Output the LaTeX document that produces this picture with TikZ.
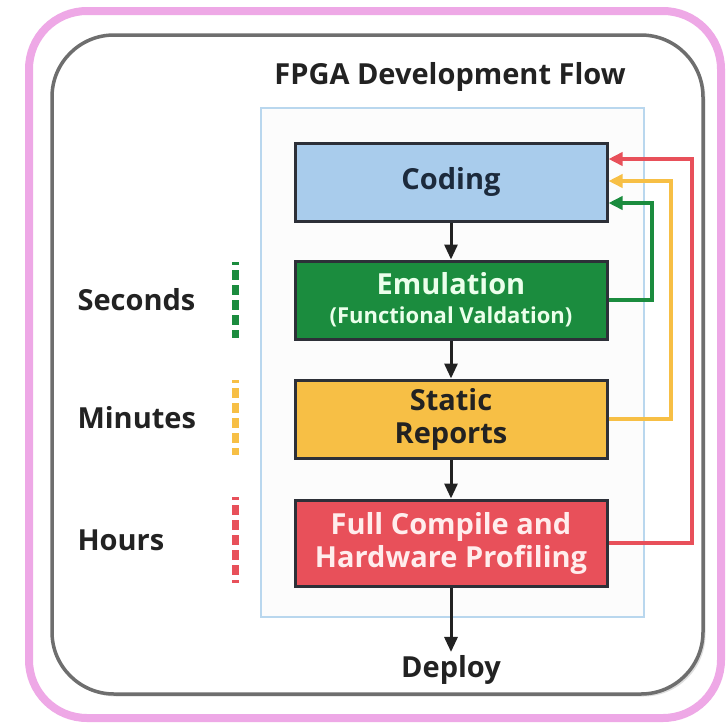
\documentclass[tikz,border=0pt]{standalone}
\usepackage{fontspec}
\setmainfont{Open Sans}
\usetikzlibrary{arrows.meta,shadows}
\definecolor{pinkframe}{HTML}{EEA8E6}
\definecolor{grayframe}{HTML}{6E6E6E}
\definecolor{flowframe}{HTML}{B9D7EE}
\definecolor{boxedge}{HTML}{2D3038}
\definecolor{codefill}{HTML}{A9CCEC}
\definecolor{codetext}{HTML}{1C2A3C}
\definecolor{emugreen}{HTML}{1B8C3E}
\definecolor{statyellow}{HTML}{F7BF45}
\definecolor{compred}{HTML}{E8505A}
\definecolor{darktext}{HTML}{222222}
\tikzset{
  stage/.style={draw=boxedge, line width=3pt, minimum width=312pt, minimum height=78pt, align=center, inner sep=0pt, font=\bfseries\fontsize{29}{33}\selectfont},
  flow/.style={draw=darktext, line width=3pt, -{Triangle[length=15pt,width=13pt]}},
  feedback/.style={line width=3.5pt, -{Triangle[length=14pt,width=13pt]}},
  timelabel/.style={anchor=west, text=darktext, font=\bfseries\fontsize{29}{33}\selectfont},
  timebar/.style={line width=7pt, dash pattern=on 10pt off 5pt, dash phase=7pt}
}
\begin{document}
\begin{tikzpicture}[x=1pt,y=-1pt]
\useasboundingbox (0,0) rectangle (726,723);
\fill[white] (0,0) rectangle (726,723);
% frames
\draw[pinkframe, line width=8pt, rounded corners=58pt] (29,11) rectangle (721,718);
\draw[grayframe, line width=3.5pt, fill=white, rounded corners=62pt, drop shadow={shadow xshift=2.5pt, shadow yshift=-2.5pt, fill=gray!50}] (52,35) rectangle (703,694);
\node[text=darktext, font=\bfseries\fontsize{29}{33}\selectfont] (title) at (450,77) {FPGA Development Flow};
\draw[flowframe, line width=2pt, fill=white!98!gray] (261,108) rectangle (644,617);

% stages
\node[stage, fill=codefill, text=codetext] (coding) at (451,182) {Coding};
\node[stage, fill=emugreen, text=white!92!green] (emulation) at (451,300) {Emulation\\[-4pt]{\fontsize{22}{26}\selectfont(Functional Valdation)}};
\node[stage, fill=statyellow, text=darktext] (static) at (451,419) {Static\\Reports};
\node[stage, fill=compred, text=white!93!red, minimum height=86pt] (compile) at (451,543) {Full Compile and\\Hardware Profiling};
\node[text=darktext, font=\bfseries\fontsize{29}{33}\selectfont] (deploy) at (451,670) {Deploy};

\draw[flow] (coding) -- (emulation);
\draw[flow] (emulation) -- (static);
\draw[flow] (static) -- (compile);
\draw[flow] (compile) -- (deploy);

% loops back to coding
\coordinate (redturn) at (692,159);
\coordinate (yellowturn) at (671,181);
\coordinate (greenturn) at (652,203);
\draw[feedback, compred] (compile.east) -| (redturn) -- (coding.east |- redturn);
\draw[feedback, statyellow] (static.east) -| (yellowturn) -- (coding.east |- yellowturn);
\draw[feedback, emugreen] (emulation.east) -| (greenturn) -- (coding.east |- greenturn);

% time scale
\foreach \name/\txt/\col/\ytop/\ybot in {sec/Seconds/emugreen/262/338, min/Minutes/statyellow/380/455, hrs/Hours/compred/497/583}{
  \node[timelabel] (\name) at (74,{(\ytop+\ybot)/2}) {\txt};
  \draw[timebar, \col] (235,\ytop) -- (235,\ybot);
}
\end{tikzpicture}
\end{document}
